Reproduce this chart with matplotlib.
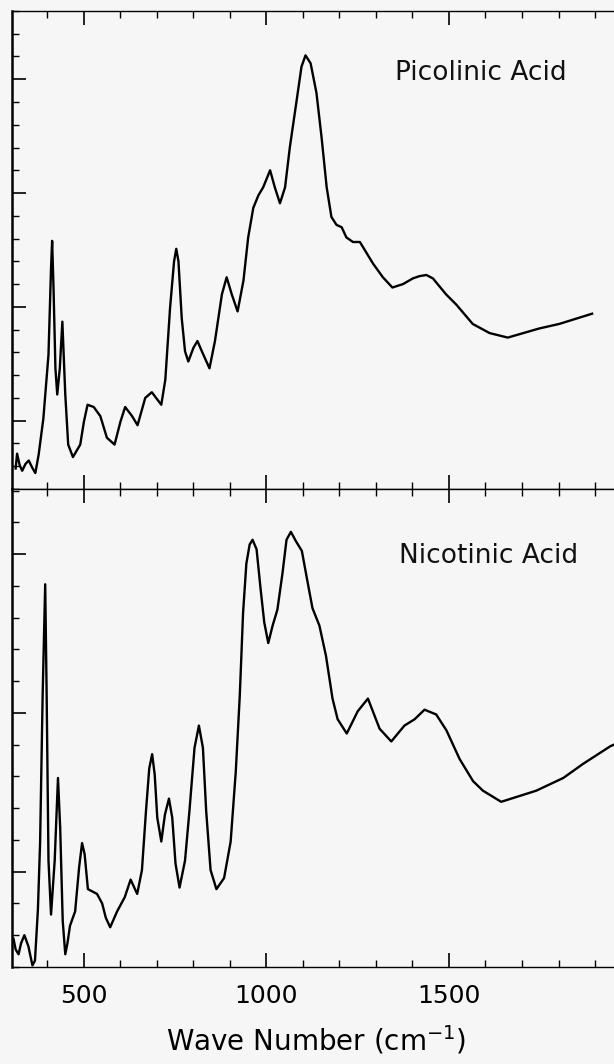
import matplotlib.pyplot as plt
from matplotlib.ticker import MultipleLocator

# picolinic acid spectrum (top panel)
pic_wn = [313, 317, 324, 331, 340, 349, 358, 367, 376, 389,
          403, 410, 413, 417, 422, 427, 434, 441, 449, 457,
          470, 490, 500, 510, 527, 545, 563, 584, 600, 613,
          632, 647, 668, 686, 712, 723, 736, 747, 753, 759,
          768, 777, 786, 800, 811, 823, 844, 859, 878, 891,
          905, 921, 937, 950, 964, 978, 991, 1010, 1023, 1037,
          1051, 1064, 1083, 1096, 1107, 1121, 1137, 1151, 1165, 1178,
          1192, 1206, 1219, 1237, 1256, 1292, 1319, 1345, 1374, 1401,
          1419, 1438, 1456, 1492, 1520, 1565, 1611, 1661, 1747, 1802,
          1892]
pic_abs = [0.58, 0.71, 0.61, 0.56, 0.62, 0.65, 0.59, 0.54, 0.70, 1.02,
           1.58, 2.34, 2.58, 2.14, 1.46, 1.23, 1.46, 1.87, 1.23, 0.79,
           0.68, 0.79, 0.99, 1.14, 1.12, 1.04, 0.85, 0.79, 0.99, 1.12,
           1.04, 0.96, 1.20, 1.25, 1.14, 1.36, 1.99, 2.40, 2.51, 2.40,
           1.90, 1.61, 1.52, 1.64, 1.70, 1.61, 1.46, 1.70, 2.11, 2.26,
           2.11, 1.96, 2.23, 2.61, 2.87, 2.98, 3.05, 3.20, 3.05, 2.91,
           3.05, 3.40, 3.82, 4.11, 4.21, 4.14, 3.88, 3.49, 3.05, 2.79,
           2.72, 2.70, 2.61, 2.57, 2.57, 2.38, 2.26, 2.17, 2.20, 2.25,
           2.27, 2.28, 2.25, 2.11, 2.02, 1.85, 1.77, 1.73, 1.81, 1.85,
           1.94]

# nicotinic acid spectrum (bottom panel)
nic_wn = [302, 307, 313, 321, 328, 337, 348, 359, 366, 374,
          380, 387, 394, 398, 403, 410, 420, 429, 435, 442,
          449, 455, 462, 476, 487, 495, 502, 511, 536, 550,
          560, 572, 591, 612, 628, 646, 659, 670, 679, 687,
          694, 701, 712, 722, 733, 742, 751, 762, 777, 789,
          803, 815, 826, 835, 847, 863, 884, 902, 916, 927,
          936, 945, 954, 962, 973, 984, 994, 1005, 1017, 1030,
          1044, 1055, 1067, 1081, 1097, 1113, 1126, 1145, 1163, 1181,
          1195, 1220, 1250, 1278, 1310, 1342, 1378, 1406, 1433, 1465,
          1493, 1529, 1566, 1593, 1643, 1739, 1813, 1868, 1942, 1962]
nic_abs = [0.58, 0.58, 0.51, 0.48, 0.55, 0.60, 0.53, 0.41, 0.44, 0.76,
           1.18, 2.11, 2.81, 2.11, 1.07, 0.73, 1.07, 1.59, 1.28, 0.69,
           0.48, 0.55, 0.66, 0.75, 1.03, 1.18, 1.11, 0.89, 0.86, 0.80,
           0.71, 0.65, 0.75, 0.84, 0.95, 0.86, 1.01, 1.38, 1.65, 1.74,
           1.61, 1.34, 1.19, 1.36, 1.46, 1.34, 1.05, 0.90, 1.07, 1.38,
           1.78, 1.92, 1.78, 1.38, 1.01, 0.89, 0.96, 1.19, 1.63, 2.11,
           2.63, 2.94, 3.06, 3.09, 3.03, 2.78, 2.57, 2.44, 2.55, 2.65,
           2.88, 3.09, 3.14, 3.08, 3.02, 2.82, 2.66, 2.55, 2.36, 2.09,
           1.96, 1.87, 2.01, 2.09, 1.90, 1.82, 1.92, 1.96, 2.02, 1.99,
           1.89, 1.71, 1.57, 1.51, 1.44, 1.51, 1.59, 1.68, 1.79, 1.81]

names = ['Picolinic Acid', 'Nicotinic Acid']
ylims = [(0.4, 4.6), (0.4, 3.41)]
name_pos = [(0.779, 0.870), (0.792, 0.859)]

bg = '#f6f6f6'
fig, axes = plt.subplots(2, 1, figsize=(6.14, 10.64), dpi=100, sharex=True,
                         facecolor=bg)
fig.subplots_adjust(left=0.0195, right=1.0, top=0.9897, bottom=0.0912, hspace=0)

for ax, wn, ab, name, ylim, pos in zip(axes, [pic_wn, nic_wn], [pic_abs, nic_abs],
                                       names, ylims, name_pos):
    ax.set_facecolor(bg)
    ax.plot(wn, ab, color='black', lw=1.7, solid_joinstyle='round')
    ax.set_xlim(303, 1952)
    ax.set_ylim(*ylim)
    ax.text(pos[0], pos[1], name, transform=ax.transAxes, ha='center', va='center',
            fontsize=19, color='#111111')
    ax.spines['right'].set_visible(False)
    ax.spines['left'].set_linewidth(1.8)
    for s in ['top', 'bottom']:
        ax.spines[s].set_linewidth(1.0)
    ax.xaxis.set_major_locator(MultipleLocator(500))
    ax.xaxis.set_minor_locator(MultipleLocator(100))
    ax.yaxis.set_major_locator(MultipleLocator(1))
    ax.yaxis.set_minor_locator(MultipleLocator(0.2))
    ax.tick_params(which='both', direction='in', top=True, bottom=True, left=True,
                   right=False, labelleft=False, color='black')
    ax.tick_params(which='major', length=10, width=1.2)
    ax.tick_params(which='minor', length=5, width=1.0)

axes[0].tick_params(labelbottom=False)
axes[1].tick_params(axis='x', labelsize=18, pad=12)

fig.text(316 / 614, 1 - 1040 / 1064, 'Wave Number (cm$^{-1}$)', ha='center',
         va='center', fontsize=20)

plt.savefig('out.png', dpi=100, facecolor=bg)
